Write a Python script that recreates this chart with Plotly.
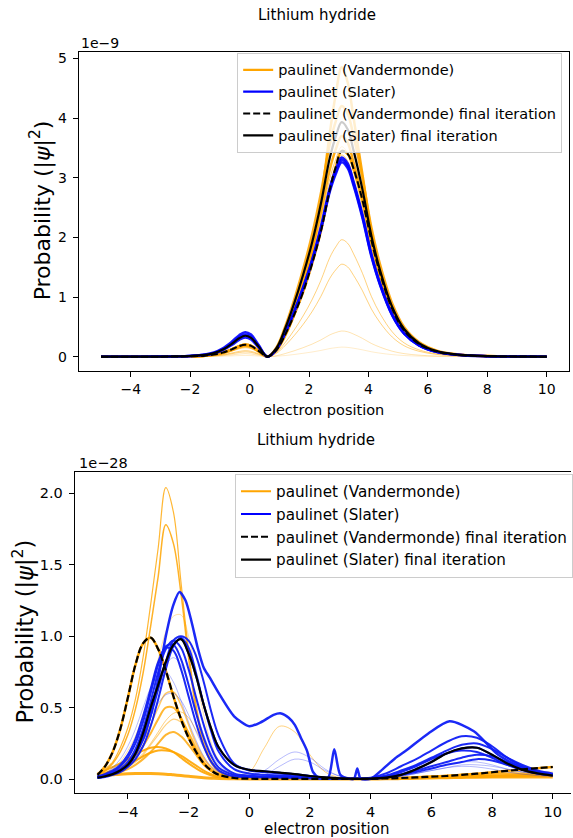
import plotly.graph_objects as go

W, H = 573, 838
FONT = "DejaVu Sans"

# ---------------- top panel (values in units of 1e-9) ----------------
X_TOP = [-5, -4, -3, -2.5, -2, -1.5, -1.2, -0.9, -0.6, -0.35, -0.15, 0.05, 0.3, 0.6,
         0.9, 1.2, 1.5, 1.8, 2.1, 2.4, 2.7, 2.9, 3.1, 3.3, 3.5, 3.8, 4.1, 4.4, 4.8, 5.2, 5.7, 6.3, 7, 8, 9, 10]

TOP_VAND_1 = [0, 0, 0, 0, 0.001, 0.002, 0.003, 0.007, 0.012, 0.018, 0.02, 0.018, 0.01, 0,
              0.006, 0.019, 0.036, 0.056, 0.078, 0.104, 0.136, 0.15, 0.16, 0.155, 0.141, 0.114, 0.082, 0.058, 0.034, 0.019, 0.009, 0.004, 0.001, 0, 0, 0]
TOP_VAND_2 = [0, 0, 0, 0.001, 0.002, 0.004, 0.009, 0.017, 0.03, 0.044, 0.05, 0.045, 0.025, 0,
              0.015, 0.052, 0.098, 0.15, 0.209, 0.28, 0.365, 0.404, 0.43, 0.417, 0.378, 0.306, 0.221, 0.157, 0.091, 0.051, 0.025, 0.01, 0.004, 0.001, 0, 0]
TOP_VAND_3 = [0, 0, 0, 0.001, 0.002, 0.007, 0.014, 0.027, 0.049, 0.07, 0.08, 0.072, 0.039, 0,
              0.056, 0.188, 0.352, 0.539, 0.752, 1.011, 1.314, 1.455, 1.55, 1.504, 1.362, 1.104, 0.798, 0.564, 0.329, 0.183, 0.09, 0.037, 0.014, 0.004, 0.001, 0]
TOP_VAND_4 = [0, 0, 0, 0.001, 0.003, 0.009, 0.017, 0.034, 0.061, 0.088, 0.1, 0.09, 0.049, 0,
              0.071, 0.237, 0.445, 0.682, 0.951, 1.278, 1.662, 1.84, 1.96, 1.901, 1.723, 1.396, 1.009, 0.713, 0.416, 0.231, 0.114, 0.047, 0.018, 0.005, 0.001, 0]
TOP_VAND_5 = [0, 0, 0, 0.002, 0.005, 0.013, 0.026, 0.051, 0.092, 0.132, 0.15, 0.135, 0.074, 0,
              0.122, 0.409, 0.767, 1.176, 1.639, 2.204, 2.866, 3.174, 3.38, 3.279, 2.971, 2.407, 1.741, 1.23, 0.717, 0.399, 0.196, 0.081, 0.03, 0.008, 0.002, 0]
TOP_VAND_6 = [0, 0, 0, 0.002, 0.005, 0.014, 0.029, 0.058, 0.104, 0.15, 0.17, 0.153, 0.083, 0,
              0.127, 0.426, 0.799, 1.225, 1.707, 2.295, 2.985, 3.305, 3.52, 3.414, 3.094, 2.506, 1.813, 1.281, 0.746, 0.415, 0.204, 0.084, 0.032, 0.008, 0.002, 0]
TOP_VAND_7 = [0, 0, 0, 0.002, 0.005, 0.015, 0.031, 0.061, 0.11, 0.158, 0.18, 0.162, 0.088, 0,
              0.133, 0.448, 0.84, 1.288, 1.795, 2.412, 3.138, 3.474, 3.7, 3.589, 3.252, 2.634, 1.906, 1.347, 0.784, 0.437, 0.215, 0.089, 0.033, 0.009, 0.002, 0]
TOP_VAND_8 = [0, 0, 0, 0.002, 0.006, 0.017, 0.034, 0.068, 0.122, 0.176, 0.2, 0.18, 0.098, 0,
              0.151, 0.508, 0.953, 1.462, 2.037, 2.738, 3.562, 3.944, 4.2, 4.074, 3.692, 2.99, 2.163, 1.529, 0.89, 0.496, 0.244, 0.101, 0.038, 0.01, 0.003, 0]
TOP_VAND_9 = [0, 0, 0, 0.002, 0.006, 0.017, 0.034, 0.068, 0.122, 0.176, 0.2, 0.18, 0.098, 0,
              0.1, 0.35, 0.7, 1.15, 1.75, 2.6, 3.75, 4.4, 4.85, 4.6, 4.0, 3.05, 2.1, 1.4, 0.78, 0.42, 0.2, 0.08, 0.03, 0.008, 0.002, 0]
TOP_VAND_FINAL = [0, 0, 0, 0.002, 0.006, 0.017, 0.034, 0.068, 0.122, 0.176, 0.2, 0.18, 0.098, 0,
                  0.11, 0.37, 0.7, 1.08, 1.55, 2.1, 2.8, 3.18, 3.45, 3.4, 3.15, 2.62, 1.95, 1.38, 0.8, 0.44, 0.21, 0.085, 0.031, 0.008, 0.002, 0]

TOP_SLAT_1 = [0, 0, 0.001, 0.004, 0.012, 0.035, 0.07, 0.14, 0.25, 0.36, 0.41, 0.37, 0.2, 0,
              0.12, 0.4, 0.75, 1.15, 1.6, 2.15, 2.8, 3.1, 3.3, 3.2, 2.9, 2.35, 1.7, 1.2, 0.7, 0.39, 0.19, 0.08, 0.03, 0.008, 0.002, 0]
TOP_SLAT_2 = [0, 0, 0.001, 0.004, 0.011, 0.031, 0.063, 0.126, 0.226, 0.326, 0.37, 0.333, 0.181, 0,
              0.117, 0.394, 0.74, 1.134, 1.581, 2.126, 2.764, 3.061, 3.26, 3.162, 2.866, 2.321, 1.679, 1.187, 0.691, 0.385, 0.189, 0.078, 0.029, 0.008, 0.002, 0]
TOP_SLAT_3 = [0, 0, 0.001, 0.003, 0.01, 0.027, 0.054, 0.109, 0.195, 0.282, 0.32, 0.288, 0.157, 0,
              0.12, 0.404, 0.758, 1.162, 1.62, 2.178, 2.832, 3.136, 3.34, 3.24, 2.936, 2.378, 1.72, 1.216, 0.708, 0.394, 0.194, 0.08, 0.03, 0.008, 0.002, 0]
TOP_SLAT_FINAL = [0, 0, 0.001, 0.004, 0.011, 0.03, 0.06, 0.119, 0.214, 0.308, 0.35, 0.315, 0.172, 0,
                  0.141, 0.476, 0.892, 1.368, 1.906, 2.562, 3.333, 3.69, 3.93, 3.812, 3.454, 2.798, 2.024, 1.431, 0.833, 0.464, 0.228, 0.094, 0.035, 0.009, 0.002, 0]

TOP_TICKS_X = [-4, -2, 0, 2, 4, 6, 8, 10]
TOP_TICKS_Y = [0, 1, 2, 3, 4, 5]

# ---------------- bottom panel (values in units of 1e-28) ----------------
X_BOT = [-5, -4.75, -4.5, -4.25, -4, -3.75, -3.5, -3.25, -3, -2.75, -2.5, -2.25, -2, -1.75, -1.5, -1.25, -1,
         -0.5, 0, 0.5, 1, 1.5, 2, 2.5, 3, 3.5, 4, 4.5, 5, 5.5, 6, 6.5, 7, 7.5, 8, 8.5, 9, 9.5, 10]

BOT_VAND_1 = [0.03, 0.07, 0.12, 0.22, 0.36, 0.56, 0.85, 1.22, 1.62, 2.04, 1.87, 1.38, 0.9, 0.52, 0.27, 0.13, 0.06,
              0.015, 0.005, 0.003, 0.002, 0.002, 0.002, 0.002, 0.002, 0.002, 0.002, 0.003, 0.004, 0.006, 0.008, 0.01, 0.012, 0.014, 0.016, 0.018, 0.02, 0.02, 0.02]
BOT_VAND_2 = [0.03, 0.06, 0.11, 0.19, 0.31, 0.49, 0.74, 1.07, 1.42, 1.78, 1.65, 1.3, 0.85, 0.48, 0.24, 0.11, 0.05,
              0.012, 0.004, 0.002, 0.002, 0.002, 0.002, 0.002, 0.002, 0.002, 0.002, 0.003, 0.004, 0.005, 0.007, 0.009, 0.011, 0.013, 0.015, 0.017, 0.019, 0.02, 0.02]
BOT_VAND_3 = [0.02, 0.04, 0.07, 0.12, 0.2, 0.3, 0.45, 0.63, 0.84, 1.03, 1.14, 1.15, 1.0, 0.72, 0.45, 0.25, 0.13,
              0.03, 0.01, 0.004, 0.003, 0.003, 0.003, 0.003, 0.003, 0.003, 0.004, 0.006, 0.01, 0.015, 0.02, 0.025, 0.03, 0.035, 0.04, 0.045, 0.05, 0.05, 0.05]
BOT_VAND_4 = [0.01, 0.02, 0.04, 0.06, 0.09, 0.13, 0.18, 0.25, 0.33, 0.41, 0.46, 0.47, 0.43, 0.34, 0.24, 0.15, 0.08,
              0.03, 0.05, 0.22, 0.37, 0.33, 0.17, 0.05, 0.01, 0.002, 0.002, 0.004, 0.006, 0.008, 0.01, 0.012, 0.014, 0.016, 0.018, 0.02, 0.02, 0.02, 0.02]
BOT_VAND_5 = [0.02, 0.035, 0.055, 0.085, 0.13, 0.19, 0.27, 0.38, 0.5, 0.6, 0.61, 0.52, 0.38, 0.25, 0.15, 0.08, 0.04,
              0.01, 0.004, 0.002, 0.002, 0.002, 0.002, 0.002, 0.002, 0.002, 0.002, 0.003, 0.005, 0.007, 0.01, 0.012, 0.015, 0.017, 0.02, 0.02, 0.02, 0.02, 0.02]
BOT_VAND_6 = [0.02, 0.03, 0.05, 0.075, 0.11, 0.16, 0.23, 0.32, 0.42, 0.5, 0.5, 0.43, 0.32, 0.21, 0.12, 0.06, 0.03,
              0.008, 0.003, 0.002, 0.002, 0.002, 0.002, 0.002, 0.002, 0.002, 0.002, 0.003, 0.005, 0.008, 0.012, 0.015, 0.018, 0.02, 0.022, 0.024, 0.025, 0.025, 0.025]
BOT_VAND_7 = [0.015, 0.025, 0.04, 0.06, 0.085, 0.12, 0.17, 0.24, 0.31, 0.38, 0.42, 0.4, 0.33, 0.23, 0.14, 0.08, 0.04,
              0.01, 0.004, 0.002, 0.002, 0.002, 0.002, 0.002, 0.002, 0.002, 0.003, 0.005, 0.008, 0.012, 0.016, 0.02, 0.025, 0.03, 0.033, 0.035, 0.035, 0.033, 0.03]
BOT_VAND_8 = [0.015, 0.025, 0.035, 0.05, 0.07, 0.1, 0.14, 0.19, 0.25, 0.31, 0.33, 0.3, 0.24, 0.17, 0.1, 0.055, 0.03,
              0.008, 0.003, 0.002, 0.002, 0.002, 0.002, 0.002, 0.002, 0.002, 0.003, 0.006, 0.01, 0.015, 0.02, 0.025, 0.03, 0.035, 0.04, 0.04, 0.04, 0.038, 0.035]
BOT_VAND_9 = [0.04, 0.06, 0.085, 0.11, 0.14, 0.17, 0.2, 0.22, 0.225, 0.215, 0.19, 0.15, 0.11, 0.075, 0.045, 0.025, 0.013,
              0.004, 0.002, 0.002, 0.002, 0.002, 0.002, 0.002, 0.002, 0.002, 0.002, 0.003, 0.005, 0.008, 0.011, 0.014, 0.017, 0.02, 0.023, 0.025, 0.027, 0.028, 0.03]
BOT_VAND_10 = [0.03, 0.045, 0.06, 0.08, 0.1, 0.13, 0.16, 0.185, 0.2, 0.2, 0.19, 0.165, 0.13, 0.095, 0.06, 0.035, 0.02,
               0.005, 0.002, 0.002, 0.002, 0.002, 0.002, 0.002, 0.002, 0.002, 0.002, 0.004, 0.007, 0.01, 0.013, 0.016, 0.019, 0.022, 0.025, 0.027, 0.029, 0.03, 0.03]
BOT_VAND_11 = [0.02, 0.025, 0.03, 0.035, 0.038, 0.04, 0.04, 0.04, 0.038, 0.035, 0.03, 0.025, 0.02, 0.015, 0.01, 0.007, 0.005,
               0.002, 0.001, 0.001, 0.001, 0.001, 0.001, 0.001, 0.001, 0.001, 0.001, 0.002, 0.004, 0.006, 0.008, 0.01, 0.012, 0.014, 0.015, 0.015, 0.015, 0.015, 0.015]
BOT_VAND_FINAL = [0.03, 0.09, 0.19, 0.35, 0.57, 0.8, 0.95, 0.99, 0.91, 0.76, 0.58, 0.42, 0.29, 0.19, 0.11, 0.06, 0.03,
                  0.008, 0.003, 0.002, 0.002, 0.002, 0.002, 0.002, 0.002, 0.002, 0.003, 0.005, 0.008, 0.012, 0.017, 0.022, 0.03, 0.038, 0.048, 0.058, 0.068, 0.077, 0.085]

BOT_SLAT_1 = [0.01, 0.02, 0.035, 0.06, 0.1, 0.17, 0.28, 0.44, 0.63, 0.82, 0.97, 1.0, 0.97, 0.86, 0.68, 0.47, 0.3,
              0.11, 0.06, 0.05, 0.04, 0.03, 0.02, 0.01, 0.005, 0.003, 0.01, 0.04, 0.09, 0.14, 0.2, 0.26, 0.3, 0.29, 0.23, 0.15, 0.09, 0.05, 0.03]
BOT_SLAT_2 = [0.01, 0.02, 0.04, 0.07, 0.12, 0.21, 0.35, 0.54, 0.75, 0.91, 0.97, 0.92, 0.77, 0.57, 0.38, 0.22, 0.12,
              0.04, 0.025, 0.02, 0.02, 0.015, 0.01, 0.005, 0.003, 0.002, 0.006, 0.025, 0.06, 0.1, 0.15, 0.2, 0.24, 0.25, 0.21, 0.15, 0.1, 0.06, 0.04]
BOT_SLAT_3 = [0.015, 0.03, 0.05, 0.09, 0.15, 0.25, 0.4, 0.6, 0.8, 0.93, 0.94, 0.84, 0.66, 0.46, 0.29, 0.16, 0.08,
              0.03, 0.02, 0.015, 0.015, 0.012, 0.008, 0.004, 0.002, 0.002, 0.005, 0.02, 0.05, 0.09, 0.14, 0.18, 0.2, 0.19, 0.15, 0.1, 0.065, 0.04, 0.03]
BOT_SLAT_4 = [0.01, 0.015, 0.03, 0.05, 0.085, 0.14, 0.23, 0.37, 0.56, 0.77, 0.93, 0.99, 0.92, 0.74, 0.52, 0.33, 0.19,
              0.07, 0.04, 0.03, 0.025, 0.02, 0.012, 0.006, 0.003, 0.002, 0.004, 0.015, 0.035, 0.06, 0.09, 0.12, 0.15, 0.17, 0.16, 0.12, 0.08, 0.05, 0.035]
BOT_SLAT_5 = [0.02, 0.035, 0.06, 0.1, 0.17, 0.28, 0.44, 0.63, 0.82, 0.92, 0.9, 0.77, 0.58, 0.39, 0.23, 0.12, 0.06,
              0.02, 0.015, 0.012, 0.01, 0.008, 0.005, 0.003, 0.002, 0.002, 0.004, 0.012, 0.03, 0.05, 0.075, 0.1, 0.12, 0.14, 0.13, 0.1, 0.07, 0.045, 0.03]
BOT_SLAT_6 = [0.02, 0.04, 0.08, 0.14, 0.23, 0.35, 0.5, 0.64, 0.73, 0.75, 0.68, 0.55, 0.4, 0.27, 0.16, 0.09, 0.05,
              0.015, 0.01, 0.01, 0.01, 0.008, 0.005, 0.003, 0.002, 0.002, 0.003, 0.01, 0.025, 0.04, 0.06, 0.08, 0.1, 0.1, 0.09, 0.07, 0.05, 0.035, 0.025]
BOT_SLAT_7 = [0.02, 0.04, 0.07, 0.11, 0.17, 0.25, 0.34, 0.44, 0.53, 0.59, 0.6, 0.55, 0.45, 0.33, 0.22, 0.13, 0.07,
              0.02, 0.02, 0.06, 0.14, 0.19, 0.15, 0.07, 0.02, 0.003, 0.002, 0.008, 0.02, 0.04, 0.06, 0.08, 0.09, 0.085, 0.07, 0.05, 0.035, 0.025, 0.02]
BOT_SLAT_8 = [0.01, 0.02, 0.04, 0.07, 0.12, 0.2, 0.32, 0.48, 0.66, 0.8, 0.85, 0.8, 0.66, 0.48, 0.31, 0.18, 0.1,
              0.03, 0.015, 0.03, 0.09, 0.14, 0.12, 0.06, 0.02, 0.003, 0.002, 0.006, 0.02, 0.04, 0.07, 0.1, 0.12, 0.12, 0.1, 0.07, 0.05, 0.035, 0.025]
BOT_SLAT_FINAL = [0.01, 0.02, 0.035, 0.06, 0.1, 0.18, 0.32, 0.5, 0.66, 0.82, 0.94, 0.98, 0.88, 0.72, 0.52, 0.35, 0.22,
                  0.1, 0.065, 0.055, 0.045, 0.035, 0.022, 0.012, 0.005, 0.002, 0.003, 0.01, 0.03, 0.07, 0.12, 0.18, 0.215, 0.22, 0.17, 0.11, 0.065, 0.04, 0.025]

# an early Slater iteration with extra structure (own sample positions)
X_BOT_SLAT_EARLY = [-5, -4.5, -4, -3.5, -3.25, -3, -2.75, -2.5, -2.3, -2.1, -1.9, -1.7, -1.5, -1.3, -1, -0.5, 0, 0.4, 0.8, 1.05,
                    1.3, 1.5, 1.7, 1.9, 2.1, 2.3, 2.6, 2.8, 3.0, 3.3, 3.45, 3.56, 3.67, 4.0, 4.4, 4.8, 5.2, 5.9, 6.6, 7.4, 8.2, 9.0, 10]
BOT_SLAT_EARLY = [0.015, 0.04, 0.1, 0.28, 0.45, 0.7, 1.0, 1.22, 1.31, 1.25, 1.1, 0.92, 0.78, 0.71, 0.6, 0.44, 0.37, 0.4, 0.45, 0.46,
                  0.43, 0.38, 0.29, 0.2, 0.05, 0.01, 0.01, 0.21, 0.03, 0.002, 0.002, 0.075, 0.002, 0.002, 0.07, 0.145, 0.205, 0.32, 0.405, 0.335, 0.17, 0.08, 0.03]

BOT_TICKS_X = [-4, -2, 0, 2, 4, 6, 8, 10]
BOT_TICKS_Y = [0.0, 0.5, 1.0, 1.5, 2.0]

LEGEND_LABELS = ["paulinet (Vandermonde)", "paulinet (Slater)",
                 "paulinet (Vandermonde) final iteration", "paulinet (Slater) final iteration"]

ORANGE = "255,165,0"
BLUE = "0,0,255"
BLUE2 = "15,30,245"


def rgba(c, a):
    return f"rgba({c},{a})"


fig = go.Figure()


def add_line(x, y, color, width, xa, ya, dash="solid", smooth=1.0):
    fig.add_trace(go.Scatter(x=x, y=y, mode="lines", xaxis=xa, yaxis=ya, showlegend=False,
                             hoverinfo="skip",
                             line=dict(color=color, width=width, dash=dash, shape="spline", smoothing=smooth)))


# ---- top panel traces ----
top_orange = [(TOP_VAND_1, 0.2, 1), (TOP_VAND_2, 0.3, 1), (TOP_VAND_3, 0.5, 1), (TOP_VAND_4, 0.5, 1),
              (TOP_VAND_5, 0.6, 1), (TOP_VAND_6, 0.6, 1), (TOP_VAND_7, 0.9, 2.5), (TOP_VAND_8, 0.9, 2.5),
              (TOP_VAND_9, 0.95, 2.5), (TOP_VAND_FINAL, 1.0, 2.5)]
for ys, a, w in top_orange:
    add_line(X_TOP, ys, rgba(ORANGE, a), w, "x", "y")
for ys in [TOP_SLAT_1, TOP_SLAT_2, TOP_SLAT_3]:
    add_line(X_TOP, ys, rgba(BLUE, 0.9), 2.5, "x", "y")
add_line(X_TOP, TOP_SLAT_FINAL, "black", 2.2, "x", "y")
add_line(X_TOP, TOP_VAND_FINAL, "black", 2.0, "x", "y", dash="7px,3px")

# ---- bottom panel traces ----
bot_orange = [(BOT_VAND_1, 0.8, 1.2), (BOT_VAND_2, 0.85, 1.5), (BOT_VAND_3, 0.35, 1), (BOT_VAND_4, 0.5, 1),
              (BOT_VAND_5, 0.6, 1.5), (BOT_VAND_6, 0.8, 2), (BOT_VAND_7, 0.5, 1.2), (BOT_VAND_8, 0.8, 2),
              (BOT_VAND_9, 0.9, 2), (BOT_VAND_10, 0.9, 2), (BOT_VAND_11, 0.9, 3), (BOT_VAND_FINAL, 1.0, 2.5)]
for ys, a, w in bot_orange:
    add_line(X_BOT, ys, rgba(ORANGE, a), w, "x2", "y2")
bot_blue = [(BOT_SLAT_6, 0.3, 1), (BOT_SLAT_7, 0.3, 1), (BOT_SLAT_8, 0.3, 1),
            (BOT_SLAT_1, 0.95, 2), (BOT_SLAT_2, 0.95, 2), (BOT_SLAT_3, 0.95, 2),
            (BOT_SLAT_4, 0.95, 2), (BOT_SLAT_5, 0.95, 2), (BOT_SLAT_FINAL, 0.95, 2)]
for ys, a, w in bot_blue:
    add_line(X_BOT, ys, rgba(BLUE2, a), w, "x2", "y2")
add_line(X_BOT_SLAT_EARLY, BOT_SLAT_EARLY, rgba(BLUE2, 0.95), 2.5, "x2", "y2", smooth=0.7)
add_line(X_BOT, BOT_SLAT_FINAL, "black", 2.2, "x2", "y2")
add_line(X_BOT, BOT_VAND_FINAL, "black", 2.2, "x2", "y2", dash="7px,3px")

# ---- legend entries ----
legend_styles = [(rgba(ORANGE, 1), "solid"), (rgba(BLUE, 1), "solid"), ("black", "7px,3px"), ("black", "solid")]
for lg, xa, ya in [("legend", "x", "y"), ("legend2", "x2", "y2")]:
    for name, (col, dash) in zip(LEGEND_LABELS, legend_styles):
        fig.add_trace(go.Scatter(x=[None], y=[None], mode="lines", name=name, legend=lg, xaxis=xa, yaxis=ya,
                                 line=dict(color=col, width=2.2, dash=dash), showlegend=True))


def px(p):
    return p / W


def py(p):
    return 1 - p / H


axis_common = dict(showgrid=False, zeroline=False, showline=True, linecolor="black", linewidth=1,
                   ticks="outside", ticklen=5, tickwidth=1, tickcolor="black")

fig.update_layout(
    width=W, height=H, margin=dict(l=0, r=0, t=0, b=0),
    paper_bgcolor="white", plot_bgcolor="white", hovermode=False,
    font=dict(family=FONT, color="black", size=14),
    xaxis=dict(domain=[px(79), px(571)], range=[-5.75, 10.75], anchor="y", mirror=True,
               tickvals=TOP_TICKS_X, ticktext=[str(v).replace("-", "\u2212") for v in TOP_TICKS_X],
               tickfont=dict(size=14), **axis_common),
    yaxis=dict(domain=[py(370), py(50)], range=[-0.2425, 5.109], anchor="x", mirror=True,
               tickvals=TOP_TICKS_Y, ticktext=[str(v) for v in TOP_TICKS_Y], ticklabelstandoff=3,
               tickfont=dict(size=14), **axis_common),
    xaxis2=dict(domain=[px(75), 1.0], range=[-5.75, 10.6], anchor="y2", mirror=True,
                tickvals=BOT_TICKS_X, ticktext=[str(v).replace("-", "\u2212") for v in BOT_TICKS_X],
                tickfont=dict(size=14.5), **axis_common),
    yaxis2=dict(domain=[py(793), py(471)], range=[-0.0978, 2.1508], anchor="x2", mirror=False,
                tickvals=BOT_TICKS_Y, ticktext=[f"{v:.1f}" for v in BOT_TICKS_Y], ticklabelstandoff=3,
                tickfont=dict(size=14.5), **axis_common),
    legend=dict(x=px(238), y=py(51), xanchor="left", yanchor="top", bgcolor="rgba(255,255,255,0.8)",
                bordercolor="#cccccc", borderwidth=1, font=dict(family=FONT, size=14.5, color="black"),
                itemwidth=30, tracegroupgap=0),
    legend2=dict(x=px(236), y=py(473), xanchor="left", yanchor="top", bgcolor="rgba(255,255,255,0.8)",
                 bordercolor="#cccccc", borderwidth=1, font=dict(family=FONT, size=15.2, color="black"),
                 itemwidth=30, tracegroupgap=0),
)

ylabel = "Probability (|<i>\u03c8</i>|<sup>2</sup>)"
annotations = [
    dict(text="Lithium hydride", x=px(318), y=py(13), font=dict(size=15)),
    dict(text="electron position", x=px(325), y=py(409), font=dict(size=14.5)),
    dict(text="Lithium hydride", x=px(317), y=py(439), font=dict(size=15)),
    dict(text="electron position", x=px(328), y=py(829), font=dict(size=15)),
    dict(text="1e\u22129", x=px(79), y=py(41), xanchor="left", font=dict(size=14)),
    dict(text="1e\u221228", x=px(77), y=py(462), xanchor="left", font=dict(size=14.5)),
    dict(text=ylabel, x=px(41), y=py(209), textangle=-90, font=dict(size=22)),
    dict(text=ylabel, x=px(23), y=py(631), textangle=-90, font=dict(size=22.5)),
]
for a in annotations:
    a.setdefault("xanchor", "center")
    fig.add_annotation(xref="paper", yref="paper", showarrow=False, yanchor="middle",
                       font=dict(family=FONT, color="black", size=a.pop("font")["size"]), **a)

fig.write_html("out.html", config={"displayModeBar": False},
               post_script="document.body.style.margin='0';document.body.style.overflow='hidden';")
